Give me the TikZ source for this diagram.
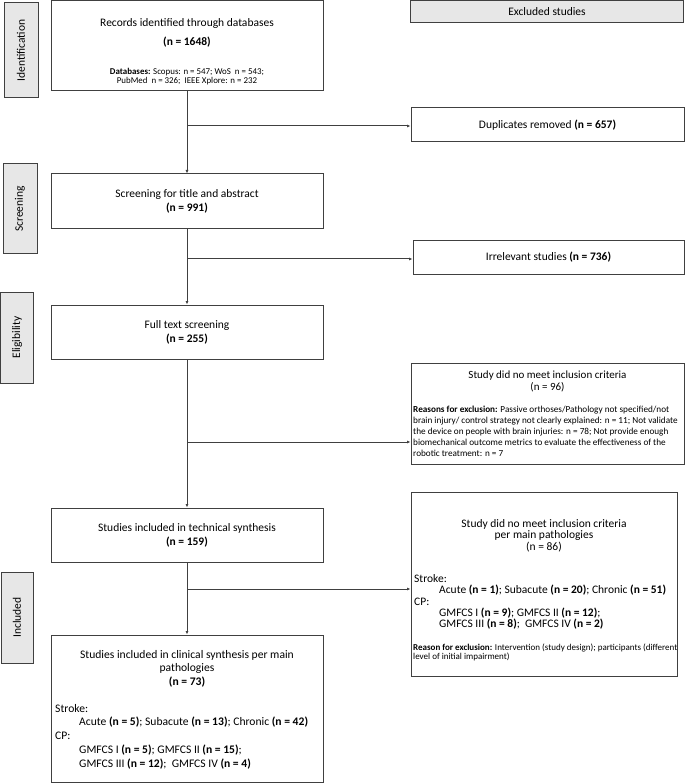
\documentclass[tikz,border=0pt]{standalone}
\usepackage{fontspec}
\setmainfont{Carlito}
\usetikzlibrary{arrows.meta}
\definecolor{stagegray}{RGB}{231,231,231}
\definecolor{linegray}{RGB}{64,64,64}

\begin{document}
\begin{tikzpicture}[
		x=1pt, y=-1pt,
		every node/.style={inner sep=1pt, font=\fontsize{11.5}{14}\selectfont},
		box/.style={rectangle, draw=linegray, line width=1pt, align=center},
		stage/.style={box, fill=stagegray, rotate=90},
		small/.style={font=\fontsize{9.2}{11}\selectfont},
		flow/.style={draw=linegray, line width=1pt, -{Latex[length=3.5pt,width=3pt]}}
	]
  \useasboundingbox (0,0) rectangle (685,783);

  \node (ident) [stage, minimum width=95pt, minimum height=34pt] at (21,50.5) {Identification};
  \node (screen) [stage, minimum width=90pt, minimum height=34pt] at (20,209) {Screening};
  \node (elig) [stage, minimum width=91pt, minimum height=33pt] at (17,337.5) {Eligibility};
  \node (incl) [stage, minimum width=91pt, minimum height=32pt] at (17,617.5) {Included};

  \node (rec) [box, minimum width=272pt, minimum height=90pt] at (187,46) {};
  \node (rec_t) [align=center] at (187,32.5) {Records identified through databases\\[5pt]\textbf{(n = 1648)}};
  \node (rec_s) [align=center, font=\fontsize{8.9}{9}\selectfont] at (187,76.5) {\textbf{Databases:} Scopus: n = 547; WoS~ n = 543;\\PubMed~ n = 326;~ IEEE Xplore: n = 232};

  \node (scr) [box, minimum width=272pt, minimum height=55pt] at (187,201.5) {Screening for title and abstract\\\textbf{(n = 991)}};
  \node (full) [box, minimum width=272pt, minimum height=54pt] at (187,332) {Full text screening\\\textbf{(n = 255)}};
  \node (tech) [box, minimum width=272pt, minimum height=54pt] at (187,535) {Studies included in technical synthesis\\\textbf{(n = 159)}};

  \node (clin) [box, minimum width=272pt, minimum height=147pt] at (187,708.5) {};
  \node (clin_t) [align=center, font=\fontsize{11.6}{13.5}\selectfont] at (187,668.5) {Studies included in clinical synthesis per main\\pathologies\\\textbf{(n = 73)}};
  \node (clin_b) [align=left, anchor=west, font=\fontsize{11.6}{13.75}\selectfont] at (54,736.5) {Stroke:\\
    \hspace*{24pt}Acute \textbf{(n = 5)}; Subacute \textbf{(n = 13)}; Chronic \textbf{(n = 42)}\\
    CP:\\
    \hspace*{24pt}GMFCS I \textbf{(n = 5)}; GMFCS II \textbf{(n = 15)};\\
    \hspace*{24pt}GMFCS III \textbf{(n = 12)};~ GMFCS IV \textbf{(n = 4)}};

  \node (excl) [box, fill=stagegray, minimum width=273pt, minimum height=22pt] at (547,11.5) {Excluded studies};
  \node (dup) [box, minimum width=273pt, minimum height=34pt] at (547.5,125) {Duplicates removed \textbf{(n = 657)}};
  \node (irr) [box, minimum width=271pt, minimum height=33pt] at (548.5,257.5) {Irrelevant studies \textbf{(n = 736)}};

  \node (ex96) [box, minimum width=273pt, minimum height=101pt] at (547.5,413.5) {};
  \node (ex96_t) [align=center, font=\fontsize{11}{12}\selectfont] at (547.5,381) {Study did no meet inclusion criteria\\(n = 96)};
  \node (ex96_b) [small, align=left, anchor=west] at (412,431) {\textbf{Reasons for exclusion:} Passive orthoses/Pathology not specified/not\\
    brain injury/ control strategy not clearly explained: n = 11; Not validate\\
    the device on people with brain injuries: n = 78; Not provide enough\\
    biomechanical outcome metrics to evaluate the effectiveness of the\\
    robotic treatment: n = 7};

  \node (ex86) [box, minimum width=266pt, minimum height=184pt] at (544,584) {};
  \node (ex86_t) [align=center, font=\fontsize{11.5}{11.5}\selectfont] at (544,535.5) {Study did no meet inclusion criteria\\per main pathologies\\(n = 86)};
  \node (ex86_b) [align=left, anchor=west, font=\fontsize{11.5}{11.25}\selectfont] at (413,602) {Stroke:\\
    \hspace*{25pt}Acute \textbf{(n = 1)}; Subacute \textbf{(n = 20)}; Chronic \textbf{(n = 51)}\\
    CP:\\
    \hspace*{25pt}GMFCS I \textbf{(n = 9)}; GMFCS II \textbf{(n = 12)};\\
    \hspace*{25pt}GMFCS III \textbf{(n = 8)};~ GMFCS IV \textbf{(n = 2)}};
  \node (ex86_r) [align=left, anchor=west, font=\fontsize{9}{9}\selectfont] at (412,652.5) {\textbf{Reason for exclusion:} Intervention (study design); participants (different\\level of initial impairment)};

  \coordinate (j1) at (187,126);
  \coordinate (j2) at (187,259);
  \coordinate (j3) at (187,442);
  \coordinate (j4) at (187,589);

  \draw [flow] (rec) -- (scr);
  \draw [flow] (j1) -- (j1 -| dup.west);
  \draw [flow] (scr) -- (full);
  \draw [flow] (j2) -- (j2 -| irr.west);
  \draw [flow] (full) -- (tech);
  \draw [flow] (j3) -- (j3 -| ex96.west);
  \draw [flow] (tech) -- (clin);
  \draw [flow] (j4) -- (j4 -| ex86.west);
\end{tikzpicture}
\end{document}
